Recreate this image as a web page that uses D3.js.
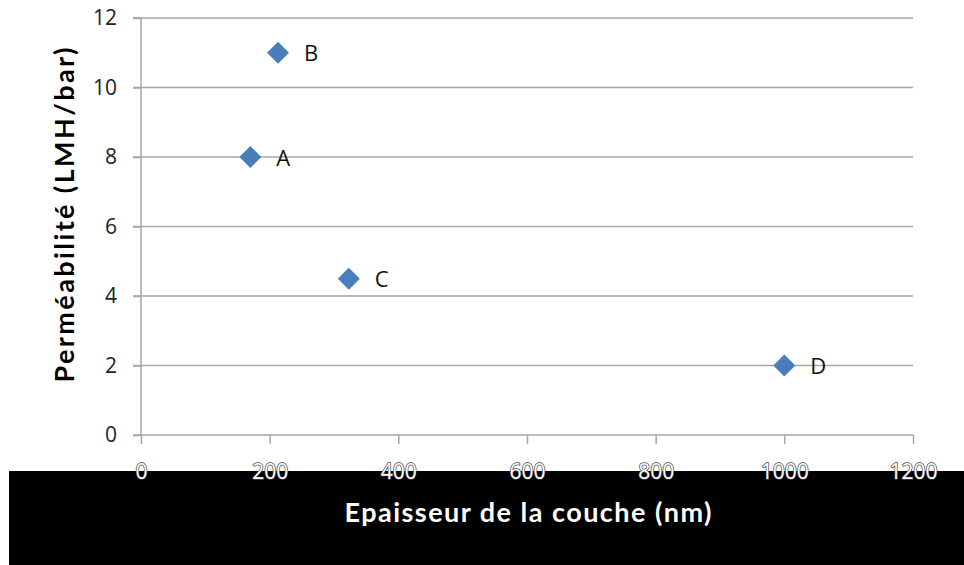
<!DOCTYPE html>
<html><head><meta charset="utf-8">
<script src="https://cdn.jsdelivr.net/npm/d3@7"></script>
<style>body{margin:0;background:#fff}svg{display:block}</style>
</head><body>
<svg id="c" width="964" height="565"></svg>
<script>
const labels = ["A","B","C","D"];
const thickness = [170, 213, 323, 1000];
const permeability = [8, 11, 4.5, 2];
const xTicks = [0,200,400,600,800,1000,1200];
const yTicks = [0,2,4,6,8,10,12];
const font = "'Open Sans', sans-serif";
const titleFont = "Lato, 'Open Sans', sans-serif";

const svg = d3.select("#c");
const x = d3.scaleLinear().domain([0,1200]).range([141,913]);
const y = d3.scaleLinear().domain([0,12]).range([435,18]);

// black band
svg.append("rect").attr("x",9).attr("y",471).attr("width",955).attr("height",94).attr("fill","#000");

// gridlines
svg.append("g").selectAll("line").data(yTicks.filter(d=>d>0)).join("line")
  .attr("x1",133).attr("x2",913).attr("y1",d=>y(d)).attr("y2",d=>y(d))
  .attr("stroke","#a6a6a6").attr("stroke-width",1.5);

// y axis
const ya = svg.append("g").attr("transform","translate(141,0)")
  .call(d3.axisLeft(y).tickValues(yTicks).tickSize(8).tickPadding(16));
ya.select(".domain").attr("stroke","#a6a6a6").attr("stroke-width",1.5).attr("d","M-8,18H0V435H-8");
ya.selectAll(".tick line").attr("stroke","#a6a6a6").attr("stroke-width",1.5);
ya.selectAll(".tick text").attr("font-family",font).attr("font-size",21).attr("fill","#222");

// x axis
const xa = svg.append("g").attr("transform","translate(0,435)")
  .call(d3.axisBottom(x).tickValues(xTicks).tickFormat(d3.format("d")).tickSize(9).tickPadding(20));
xa.select(".domain").attr("stroke","#a6a6a6").attr("stroke-width",1.5).attr("d","M141,0H913");
xa.selectAll(".tick line").attr("stroke","#a6a6a6").attr("stroke-width",1.5);
xa.selectAll(".tick text").attr("font-family",font).attr("font-size",21)
  .attr("fill","#fff").attr("stroke","#444").attr("stroke-width",1.4).attr("paint-order","stroke");

// points
const pts = labels.map((l,i)=>({l, x: thickness[i], y: permeability[i]}));
svg.append("g").selectAll("path").data(pts).join("path")
  .attr("transform",d=>`translate(${x(d.x)},${y(d.y)})`)
  .attr("d","M0,-11L11,0L0,11L-11,0Z")
  .attr("fill","#4a7ebb");
svg.append("g").selectAll("text").data(pts).join("text")
  .attr("x",d=>x(d.x)+26).attr("y",d=>y(d.y)+8.5)
  .attr("font-family",font).attr("font-size",22).attr("fill","#111").text(d=>d.l);

// titles
svg.append("text").attr("transform","translate(74,215) rotate(-90)").attr("text-anchor","middle")
  .attr("font-family",titleFont).attr("font-weight","bold").attr("font-size",27).attr("fill","#000")
  .attr("textLength",335).attr("lengthAdjust","spacing")
  .text("Perméabilité (LMH/bar)");
svg.append("text").attr("x",528).attr("y",522).attr("text-anchor","middle")
  .attr("font-family",titleFont).attr("font-weight","bold").attr("font-size",27).attr("fill","#fff")
  .attr("textLength",367).attr("lengthAdjust","spacing")
  .text("Epaisseur de la couche (nm)");
</script>
</body></html>
